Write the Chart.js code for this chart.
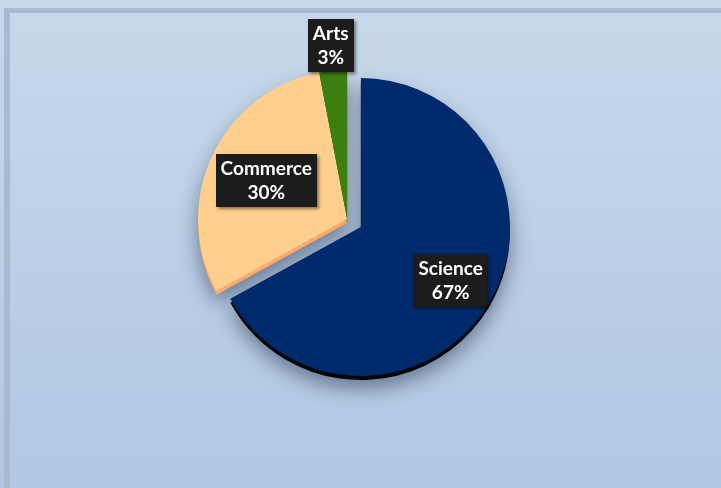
<!DOCTYPE html>
<html><head><meta charset="utf-8">
<script src="https://cdn.jsdelivr.net/npm/chart.js@4/dist/chart.umd.min.js"></script>
<style>
html,body{margin:0;padding:0;}
body{width:721px;height:488px;overflow:hidden;background:linear-gradient(#c7d8e9,#b1c7e3);position:relative;}
#frame{position:absolute;left:4px;top:8px;width:740px;height:510px;border-left:6px solid #a9bad0;border-top:5px solid #a9bad0;box-sizing:border-box;}
#wrap{position:absolute;left:0;top:0;width:721px;height:488px;}
</style></head><body>
<div id="frame"></div>
<div id="wrap"><canvas id="c" width="721" height="488"></canvas></div>
<script>
// ---- data ----
const categories = ['Science', 'Commerce', 'Arts'];
const shares = [67, 30, 3];

// ---- styles ----
const topColors = ['#002a6c', '#ffcf8d', '#3d7e11'];
const rimColors = ['#050505', '#ffaa6c', '#2a5a0a'];
const groupSign = [1, -1, -1];          // Science pulled out, the rest pushed the other way
const labelRadius = [0.70, 0.60, 1.17]; // label distance as a fraction of radius
const EXPLODE = 16;
const RIM = 4;

function explodeShift(chart) {
  const sci = chart.getDatasetMeta(0).data[0];
  const mid = (sci.startAngle + sci.endAngle) / 2;
  return { dx: Math.cos(mid) * EXPLODE / 2, dy: Math.sin(mid) * EXPLODE / 2 };
}

const pie3d = {
  id: 'pie3d',
  beforeDatasetDraw(chart, args) {
    const ctx = chart.ctx;
    const s = explodeShift(chart);
    const els = args.meta.data;
    els.forEach((el, i) => {
      const saved = el.options;
      el.options = Object.assign({}, saved, { backgroundColor: rimColors[i], borderWidth: 0 });
      ctx.save();
      ctx.translate(groupSign[i] * s.dx, groupSign[i] * s.dy + RIM);
      ctx.shadowColor = 'rgba(35,50,75,0.55)';
      ctx.shadowBlur = 20;
      ctx.shadowOffsetY = 8;
      el.draw(ctx);
      ctx.restore();
      el.options = saved;
    });
    els.forEach((el, i) => {
      ctx.save();
      ctx.translate(groupSign[i] * s.dx, groupSign[i] * s.dy);
      el.draw(ctx);
      ctx.restore();
    });
    return false;
  },
  afterDatasetsDraw(chart) {
    const ctx = chart.ctx;
    const s = explodeShift(chart);
    const els = chart.getDatasetMeta(0).data;
    const total = shares.reduce((a, b) => a + b, 0);
    els.forEach((el, i) => {
      const mid = (el.startAngle + el.endAngle) / 2;
      const cx = el.x + groupSign[i] * s.dx + Math.cos(mid) * el.outerRadius * labelRadius[i];
      const cy = el.y + groupSign[i] * s.dy + Math.sin(mid) * el.outerRadius * labelRadius[i];
      const lines = [categories[i], Math.round(shares[i] / total * 100) + '%'];
      ctx.save();
      ctx.font = 'bold 19px Lato, "Open Sans", sans-serif';
      const w = Math.max(...lines.map(t => ctx.measureText(t).width)) + 10;
      const lh = 24;
      const h = lines.length * lh + 5;
      ctx.shadowColor = 'rgba(0,0,0,0.45)';
      ctx.shadowOffsetX = 2; ctx.shadowOffsetY = 2; ctx.shadowBlur = 3;
      ctx.fillStyle = '#1c1c1c';
      ctx.fillRect(Math.round(cx - w / 2), Math.round(cy - h / 2), Math.round(w), h);
      ctx.shadowColor = 'transparent';
      ctx.fillStyle = '#ffffff';
      ctx.textAlign = 'center';
      ctx.textBaseline = 'middle';
      lines.forEach((t, k) => {
        ctx.fillText(t, cx, cy - h / 2 + 3 + lh * k + lh / 2);
      });
      ctx.restore();
    });
  }
};

new Chart(document.getElementById('c'), {
  type: 'pie',
  data: {
    labels: categories,
    datasets: [{ data: shares, backgroundColor: topColors, borderWidth: 0 }]
  },
  options: {
    responsive: false,
    animation: false,
    devicePixelRatio: 1,
    events: [],
    radius: 149,
    layout: { padding: { left: 0, right: 13, top: 0, bottom: 42 } },
    plugins: { legend: { display: false }, tooltip: { enabled: false } }
  },
  plugins: [pie3d]
});
</script>
</body></html>
